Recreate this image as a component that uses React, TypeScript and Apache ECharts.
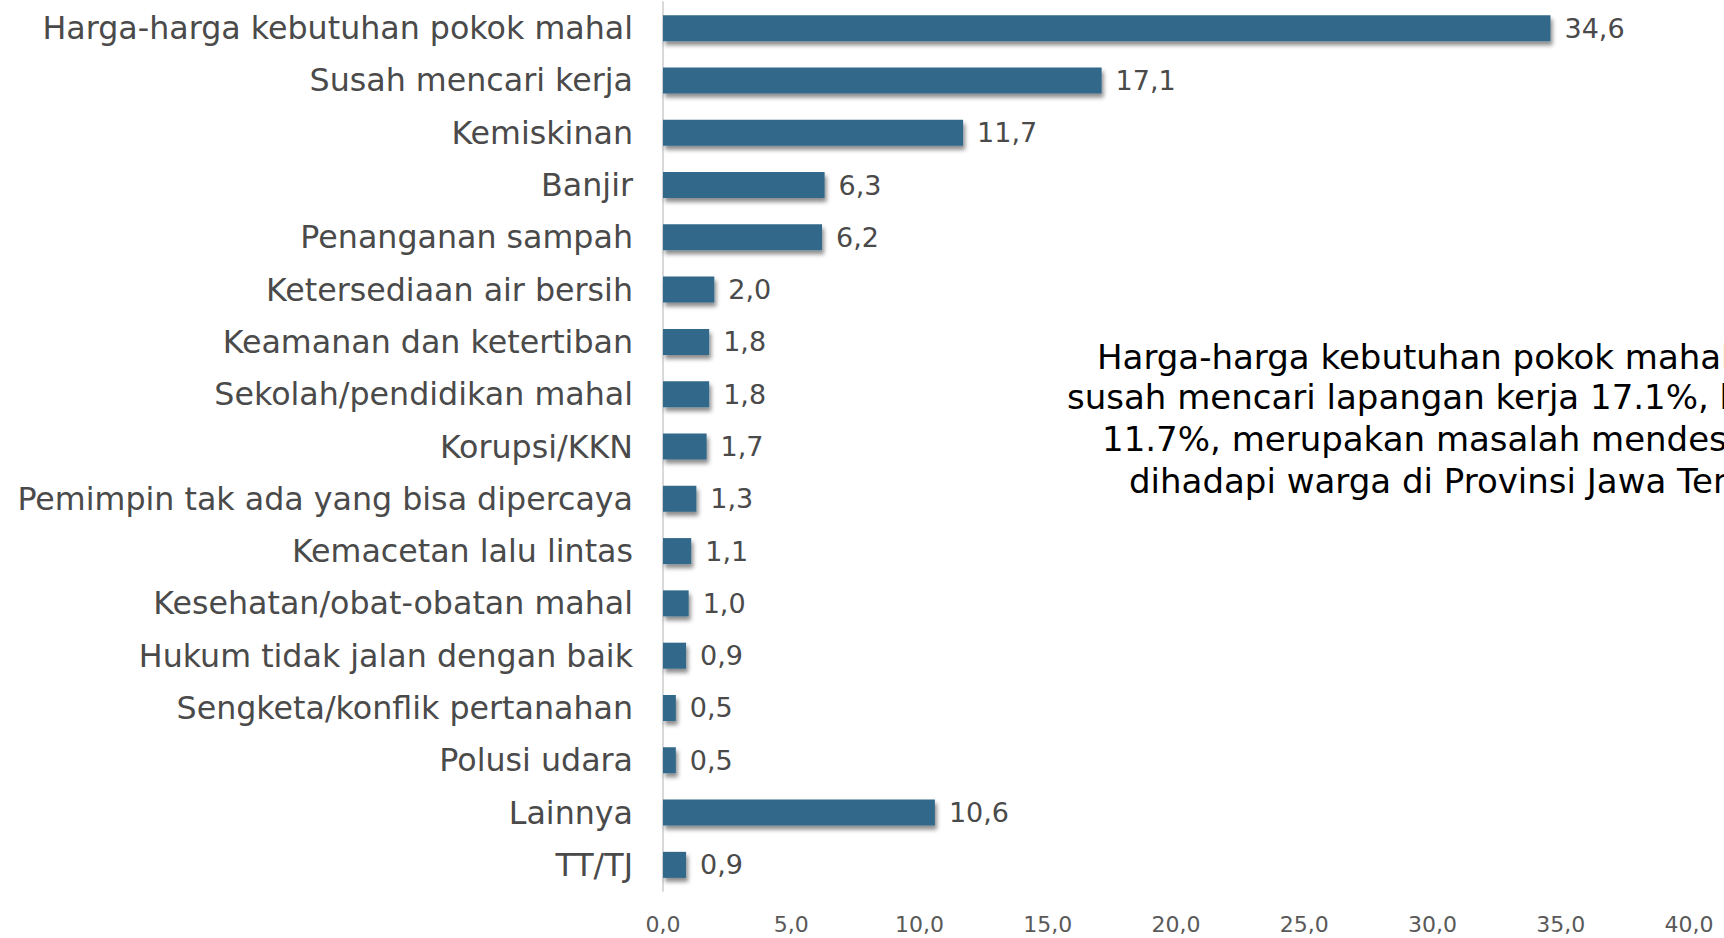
import React, { useEffect, useRef } from "react";
import * as echarts from "echarts";

const categories = [
  "Harga-harga kebutuhan pokok mahal",
  "Susah mencari kerja",
  "Kemiskinan",
  "Banjir",
  "Penanganan sampah",
  "Ketersediaan air bersih",
  "Keamanan dan ketertiban",
  "Sekolah/pendidikan mahal",
  "Korupsi/KKN",
  "Pemimpin tak ada yang bisa dipercaya",
  "Kemacetan lalu lintas",
  "Kesehatan/obat-obatan mahal",
  "Hukum tidak jalan dengan baik",
  "Sengketa/konflik pertanahan",
  "Polusi udara",
  "Lainnya",
  "TT/TJ",
];

const values = [34.6, 17.1, 11.7, 6.3, 6.2, 2.0, 1.8, 1.8, 1.7, 1.3, 1.1, 1.0, 0.9, 0.5, 0.5, 10.6, 0.9];

const noteLines = [
  "Harga-harga kebutuhan pokok mahal 34.6%,",
  "susah mencari lapangan kerja 17.1%, kemiskinan",
  "11.7%, merupakan masalah mendesak yang",
  "dihadapi warga di Provinsi Jawa Tengah",
];
const noteLeft = [1097, 1067, 1102, 1129];
const noteY = [360, 400, 442, 484];

const FONT = "DejaVu Sans";
const fmt = (v: number) => v.toFixed(1).replace(".", ",");

export default function App() {
  const ref = useRef<HTMLDivElement>(null);
  useEffect(() => {
    if (!ref.current) return;
    const chart = echarts.init(ref.current, null, { renderer: "svg" });
    chart.setOption({
      animation: false,
      backgroundColor: "#ffffff",
      grid: { left: 663, right: 35, top: 2, bottom: 47, containLabel: false },
      xAxis: {
        type: "value",
        min: 0,
        max: 40,
        interval: 5,
        axisLine: { show: false },
        axisTick: { show: false },
        splitLine: { show: false },
        axisLabel: {
          formatter: (v: number) => fmt(v),
          color: "#595959",
          fontFamily: FONT,
          fontSize: 22,
          margin: 22,
        },
      },
      yAxis: {
        type: "category",
        data: categories,
        inverse: true,
        axisTick: { show: false },
        axisLine: { show: true, lineStyle: { color: "#d9d9d9", width: 2 } },
        axisLabel: {
          color: "#4a4a4a",
          fontFamily: FONT,
          fontSize: 31.7,
          margin: 30,
        },
      },
      series: [
        {
          type: "bar",
          data: values,
          barWidth: 26,
          itemStyle: {
            color: "#30678a",
            shadowColor: "rgba(0,0,0,0.45)",
            shadowBlur: 4,
            shadowOffsetX: 2,
            shadowOffsetY: 4,
          },
          label: {
            show: true,
            position: "right",
            distance: 14,
            formatter: (p: any) => fmt(p.value),
            color: "#4a4a4a",
            fontFamily: FONT,
            fontSize: 27,
          },
        },
      ],
      graphic: noteLines.map((t, i) => ({
        type: "text",
        left: noteLeft[i],
        top: noteY[i] - 20,
        style: {
          text: t,
          fill: "#000000",
          font: `34px "${FONT}"`,
          textAlign: "left",
          textVerticalAlign: "top",
        },
      })),
    });
    return () => chart.dispose();
  }, []);
  return (
    <div
      ref={ref}
      style={{ position: "fixed", left: 0, top: 0, width: 1724, height: 938 }}
    />
  );
}
